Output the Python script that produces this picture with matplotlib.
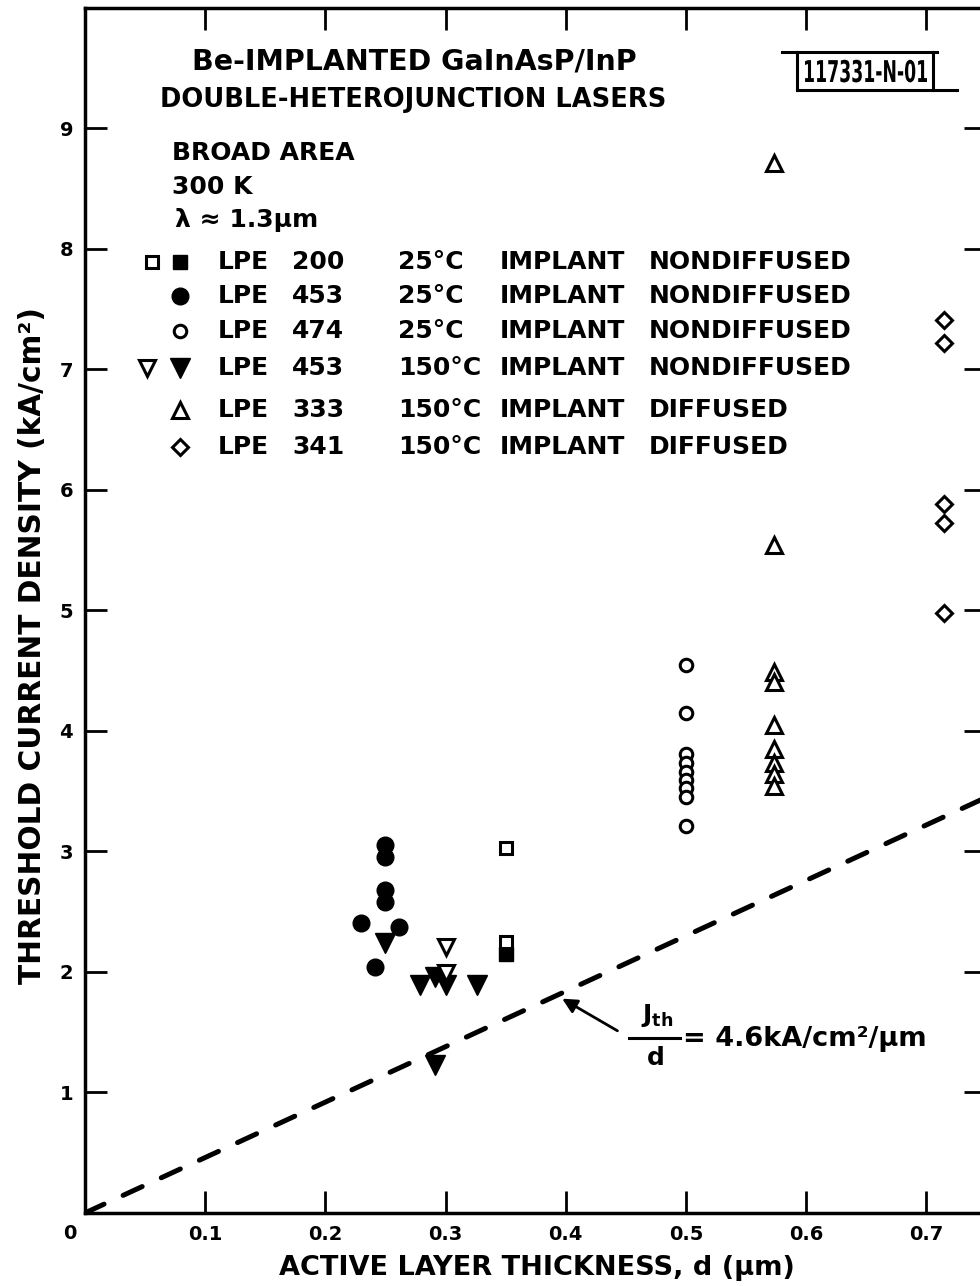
import numpy as np
import matplotlib.pyplot as plt
from matplotlib.textpath import TextPath
from matplotlib.patches import PathPatch
from matplotlib.font_manager import FontProperties
from matplotlib.transforms import Affine2D

plt.rcParams['font.family'] = 'DejaVu Sans'
plt.rcParams['font.weight'] = 'bold'
plt.rcParams['mathtext.fontset'] = 'dejavusans'

# threshold current density (kA/cm^2) vs active layer thickness d (um)
# LPE 200, 25C implant, nondiffused (open and filled squares)
d_200_open = [0.35, 0.35]
j_200_open = [3.03, 2.25]
d_200_fill = [0.35]
j_200_fill = [2.15]

# LPE 453, 25C implant, nondiffused
d_453_25 = [0.25, 0.25, 0.25, 0.25, 0.23, 0.261, 0.241]
j_453_25 = [3.05, 2.95, 2.68, 2.58, 2.41, 2.37, 2.04]

# LPE 474, 25C implant, nondiffused
d_474 = [0.5] * 9
j_474 = [4.55, 4.15, 3.81, 3.73, 3.66, 3.59, 3.53, 3.45, 3.21]

# LPE 453, 150C implant, nondiffused (open and filled down-triangles)
d_453_150_open = [0.30, 0.30]
j_453_150_open = [2.21, 1.99]
d_453_150_fill = [0.25, 0.279, 0.291, 0.30, 0.326, 0.291]
j_453_150_fill = [2.24, 1.89, 1.96, 1.89, 1.89, 1.23]

# LPE 333, 150C implant, diffused
d_333 = [0.573] * 9
j_333 = [8.71, 5.54, 4.49, 4.41, 4.05, 3.85, 3.73, 3.64, 3.54]

# LPE 341, 150C implant, diffused
d_341 = [0.715] * 5
j_341 = [7.41, 7.22, 5.88, 5.73, 4.98]

slope = 4.6  # Jth/d in kA/cm^2/um

xticks = [0.1, 0.2, 0.3, 0.4, 0.5, 0.6, 0.7]
yticks = [1, 2, 3, 4, 5, 6, 7, 8, 9]

fig = plt.figure(figsize=(9.8, 12.86), dpi=100)
ax = fig.add_axes([0.0867, 0.0568, 0.9199, 0.937])
ax.set_xlim(0, 0.75)
ax.set_ylim(0, 10)

for s in ax.spines.values():
    s.set_linewidth(2.5)

ax.set_xticks(xticks)
ax.set_xticklabels([str(t) for t in xticks])
ax.set_yticks(yticks)
ax.set_yticklabels([str(t) for t in yticks])
ax.tick_params(direction='in', length=16, width=2, top=True, right=True,
               labelsize=14, pad=8.5)

# dashed line Jth = 4.6 * d
dl = np.array([0.0, 0.75])
ax.plot(dl, slope * dl, color='k', lw=3.6, dashes=(4.2, 4.2),
        dash_capstyle='round')

open_kw = dict(ls='none', mfc='white', mec='k', mew=2.2, zorder=4)
fill_kw = dict(ls='none', mfc='k', mec='k', mew=1, zorder=3)

ax.plot(d_453_25, j_453_25, 'o', ms=12, **fill_kw)
ax.plot(d_453_150_fill, j_453_150_fill, 'v', ms=14.5, **fill_kw)
ax.plot(d_200_fill, j_200_fill, 's', ms=9.5, **fill_kw)
ax.plot(d_200_open, j_200_open, 's', ms=8.5, **open_kw)
ax.plot(d_453_150_open, j_453_150_open, 'v', ms=12, **open_kw)
ax.plot(d_474, j_474, 'o', ms=9, **open_kw)
ax.plot(d_333, j_333, '^', ms=12, **open_kw)
ax.plot(d_341, j_341, 'D', ms=7.8, **open_kw)

# header text
ax.text(0.1187, 0.9552, 'Be-IMPLANTED GaInAsP/InP', transform=ax.transAxes,
        fontsize=20.5, va='center')
ax.text(0.0832, 0.9237, 'DOUBLE-HETEROJUNCTION LASERS', transform=ax.transAxes,
        fontsize=18.5, va='center')
ax.text(0.0965, 0.8797, 'BROAD AREA', transform=ax.transAxes, fontsize=18, va='center')
ax.text(0.0965, 0.8515, '300 K', transform=ax.transAxes, fontsize=18, va='center')
ax.text(0.0998, 0.8241, 'λ ≈ 1.3μm', transform=ax.transAxes, fontsize=18, va='center')

# key list
rows = [0.7892, 0.7610, 0.7320, 0.7012, 0.6664, 0.6357]
lots = ['200', '453', '474', '453', '333', '341']
temps = ['25°C', '25°C', '25°C', '150°C', '150°C', '150°C']
kinds = ['NONDIFFUSED', 'NONDIFFUSED', 'NONDIFFUSED', 'NONDIFFUSED',
         'DIFFUSED', 'DIFFUSED']
for y, lot, t, k in zip(rows, lots, temps, kinds):
    for x, s in [(0.1475, 'LPE'), (0.2296, lot), (0.3472, t),
                 (0.4603, 'IMPLANT'), (0.6256, k)]:
        ax.text(x, y, s, transform=ax.transAxes, fontsize=18, va='center')

kx1, kx2 = 0.0743, 0.1054
key_kw = dict(transform=ax.transAxes, clip_on=False)
ax.plot(kx1, rows[0], 's', ms=8.5, **open_kw, **key_kw)
ax.plot(kx2, rows[0], 's', ms=9.5, **fill_kw, **key_kw)
ax.plot(kx2, rows[1], 'o', ms=12, **fill_kw, **key_kw)
ax.plot(kx2, rows[2], 'o', ms=9, **open_kw, **key_kw)
ax.plot(kx1 - 0.006, rows[3], 'v', ms=12, **open_kw, **key_kw)
ax.plot(kx2, rows[3], 'v', ms=14.5, **fill_kw, **key_kw)
ax.plot(kx2, rows[4], '^', ms=12, **open_kw, **key_kw)
ax.plot(kx2, rows[5], 'D', ms=7.8, **open_kw, **key_kw)

# figure number box
bx = dict(transform=ax.transAxes, color='k', lw=2.2, clip_on=False)
ax.plot([0.7732, 0.9451], [0.9635, 0.9635], **bx)
ax.plot([0.7898, 0.9673], [0.9320, 0.9320], **bx)
ax.plot([0.7898, 0.7898], [0.9320, 0.9635], **bx)
ax.plot([0.9406, 0.9406], [0.9320, 0.9635], **bx)

# condensed lettering for the figure number (squeezed text path, pixel units)
tp = TextPath((0, 0), '117331-N-01', size=30,
              prop=FontProperties(family='DejaVu Sans', weight='bold'))
ext = tp.get_extents()
sx = 122 / ext.width
tag = PathPatch(tp, color='k', lw=0,
                transform=Affine2D().translate(-ext.x0, 0).scale(sx, 1)
                .translate(805, 1286 - 82))
fig.patches.append(tag)

# slope annotation
ax.annotate('', xy=(0.395, 1.79), xytext=(0.445, 1.50),
            arrowprops=dict(arrowstyle='-|>', color='k', lw=2,
                            mutation_scale=22))
ax.text(0.476, 1.64, r'$\mathbf{J_{th}}$', fontsize=18, ha='center', va='center')
ax.plot([0.453, 0.495], [1.45, 1.45], color='k', lw=2.2)
ax.text(0.475, 1.29, 'd', fontsize=18, ha='center', va='center')
ax.text(0.4975, 1.44, '= 4.6kA/cm²/μm', fontsize=19.5, va='center')

# axis labels and shared origin
ax.text(-0.017, -0.017, '0', transform=ax.transAxes, fontsize=14,
        ha='center', va='center')
fig.text(537 / 980, 1 - 1268 / 1286, 'ACTIVE LAYER THICKNESS, d (μm)',
         fontsize=19.5, ha='center', va='center')
fig.text(33 / 980, 1 - 646 / 1286, 'THRESHOLD CURRENT DENSITY (kA/cm²)',
         fontsize=21.3, rotation=90, ha='center', va='center')

fig.savefig('out.png', dpi=100)
